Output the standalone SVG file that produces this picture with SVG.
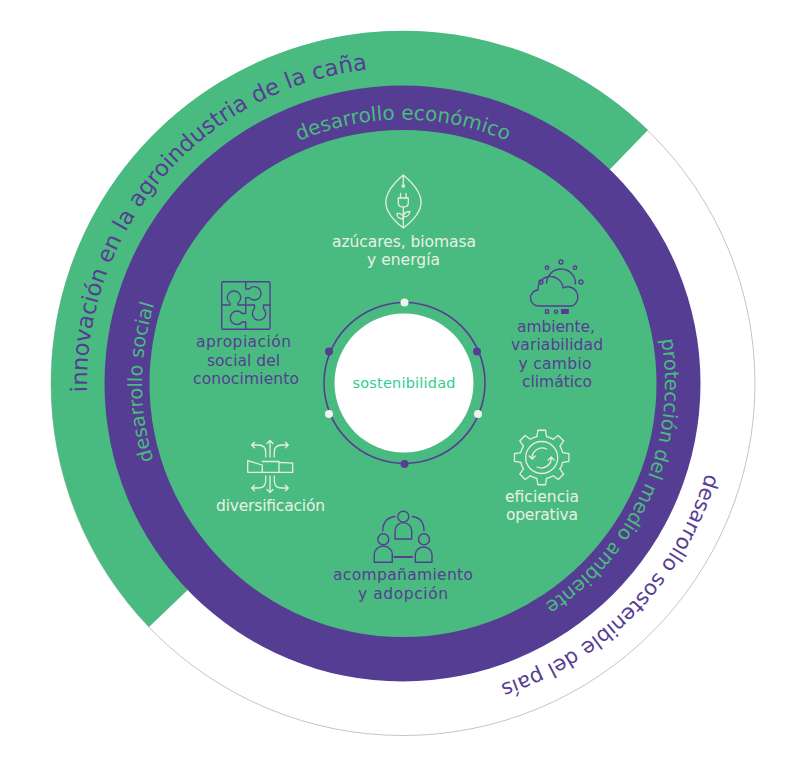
<svg xmlns="http://www.w3.org/2000/svg" width="803" height="767" viewBox="0 0 803 767">
<style>
text{font-family:"DejaVu Sans","Liberation Sans",sans-serif;text-anchor:middle}
.l{font-size:15.5px}
.c{fill:#e9f0e6}
.p{fill:#563d94}
.g{fill:#4abb80}
.ic{fill:none;stroke:#e6ede3;stroke-width:1.3;stroke-linecap:round;stroke-linejoin:round}
.ip{fill:none;stroke:#563d94;stroke-width:1.4;stroke-linecap:round;stroke-linejoin:round}
</style>
<defs>
<path id="a1" d="M96.4 459.9A316 316 0 0 1 436 69.2"/>
<path id="a2" d="M233.3 181.3A264 264 0 0 1 572.7 181.3"/>
<path id="a3" d="M176.3 512.8A261 261 0 0 1 177.7 251.8"/>
<path id="a4" d="M638.1 267.8A262 262 0 0 1 476.1 635.1"/>
<path id="a5" d="M719 379.6A316 316 0 0 1 406.9 699.5"/>
<path id="t" d="M-4.84-20.95L-3.83-27.23H3.83L4.84-20.95A21.5 21.5 0 0 1 11.39-18.23"/>
</defs>
<rect width="803" height="767" fill="#fff"/>
<g id="rings">
<circle cx="403" cy="383.5" r="352" fill="#fff" stroke="#b5b5b5" stroke-width=".8"/>
<path d="M149 627A352 352 0 0 1 51 383.5A352 352 0 0 1 648 130L403 383.5Z" fill="#4abb80"/>
<circle cx="402.5" cy="383.5" r="298" fill="#563d94"/>
<circle cx="403" cy="383.5" r="253.5" fill="#4abb80"/>
</g>
<g id="ring-labels">
<text class="p" font-size="22.7"><textPath href="#a1" startOffset="50%">innovación en la agroindustria de la caña</textPath></text>
<text class="g" font-size="20"><textPath href="#a2" startOffset="50%">desarrollo económico</textPath></text>
<text class="g" font-size="19.5"><textPath href="#a3" startOffset="50%">desarrollo social</textPath></text>
<text class="g" font-size="19.6"><textPath href="#a4" startOffset="50%">protección del medio ambiente</textPath></text>
<text class="p" font-size="21"><textPath href="#a5" startOffset="50%">desarrollo sostenible del país</textPath></text>
</g>
<g id="connectors">
<circle cx="404.5" cy="383" r="80.5" fill="none" stroke="#563d94" stroke-width="1.6"/>
<circle cx="404.5" cy="302.5" r="4" fill="#f1f3ef"/>
<circle cx="404.5" cy="464" r="4" fill="#563d94"/>
<circle cx="329" cy="351.5" r="4" fill="#563d94"/>
<circle cx="477" cy="351.5" r="4" fill="#563d94"/>
<circle cx="329" cy="414" r="4" fill="#f1f3ef"/>
<circle cx="478" cy="414" r="4" fill="#f1f3ef"/>
</g>
<g id="centro">
<circle cx="404" cy="383" r="69.5" fill="#fff"/>
<text x="404" y="387.5" font-size="14.5" fill="#2fcf8e" textLength="103">sostenibilidad</text>
</g>
<g id="azucares">
<g class="ic">
<path d="M403.3 175C380 195 380 210 403.3 228C427 210 427 195 403.3 175ZM403.3 175V186M403.3 207V228M398.3 198H408.3V203Q408.3 207 403.3 207Q398.3 207 398.3 203ZM400.5 198V193.5M406 198V193.5M403.3 219Q397 219 397 213.5Q403 213 403.3 219ZM403.3 217Q409 217 410 211.5Q403.5 211.5 403.3 217Z"/>
<circle cx="403.3" cy="186" r="1.2"/>
</g>
<text class="l c" x="404" y="247" textLength="144">azúcares, biomasa</text>
<text class="l c" x="403.5" y="265" textLength="73">y energía</text>
</g>
<g id="apropiacion">
<g class="ip">
<rect x="221.7" y="281.7" width="48.3" height="47.6" rx="1.5"/>
<path d="M221.7 305H230V303A6.7 6.7 0 1 1 238 303V305H254.5V308.5A6.7 6.7 0 1 0 263.5 308.5V305H270M245.7 281.7V289H249.2A6.7 6.7 0 1 1 249.2 297.6H245.7V313.5H242.2A6.7 6.7 0 1 0 242.2 322H245.7V329.3"/>
</g>
<text class="l p" x="243.5" y="347" textLength="95">apropiación</text>
<text class="l p" x="243.5" y="365.5" textLength="73">social del</text>
<text class="l p" x="246" y="384" textLength="106">conocimiento</text>
</g>
<g id="ambiente">
<g class="ip">
<path d="M546.5 283A14.5 14.5 0 0 1 575.5 284M539 306A8 8 0 0 1 538 290A12.5 12.5 0 0 1 563 288A9.5 9.5 0 0 1 572.5 306Z"/>
<circle cx="561" cy="262" r="2"/><circle cx="547" cy="267.7" r="1.7"/><circle cx="575" cy="267.7" r="1.7"/><circle cx="541" cy="282" r="2"/><circle cx="581" cy="282" r="2"/>
<rect x="545.5" y="310" width="3" height="3.2"/><circle cx="556" cy="311.7" r="1.6"/>
</g>
<rect x="561" y="309" width="7.8" height="5" fill="#563d94"/>
<text class="l p" x="556" y="331.5" textLength="78">ambiente,</text>
<text class="l p" x="557" y="350" textLength="92">variabilidad</text>
<text class="l p" x="555" y="368.5" textLength="73">y cambio</text>
<text class="l p" x="557" y="387" textLength="70">climático</text>
</g>
<g id="eficiencia">
<g class="ic" transform="translate(541.7 457.5)">
<use href="#t"/><use href="#t" transform="rotate(45)"/><use href="#t" transform="rotate(90)"/><use href="#t" transform="rotate(135)"/><use href="#t" transform="rotate(180)"/><use href="#t" transform="rotate(225)"/><use href="#t" transform="rotate(270)"/><use href="#t" transform="rotate(315)"/>
<circle r="16"/>
<path d="M5-8.5A10 10 0 0 0-9.5 1.5M-12.5-1.5L-9.5 1.5L-6.5-1.5M-4.7 9.5A10 10 0 0 0 9.5-.5M6.5 2.5L9.5-.5L12.5 2.5"/>
</g>
<text class="l c" x="542" y="501.5" textLength="74">eficiencia</text>
<text class="l c" x="542" y="520" textLength="72">operativa</text>
</g>
<g id="acompanamiento">
<g class="ip">
<circle cx="403.3" cy="516.7" r="5.5"/><path d="M395 539V531A8.3 8.3 0 0 1 411.7 531V539ZM382.7 530.7Q383 518 395 516.5M412.3 516.5Q424 518 424 530.7"/>
<circle cx="383.3" cy="539.3" r="5.5"/><path d="M374.3 562.3V554.5A9 8.5 0 0 1 392.3 554.5V562.3Z"/>
<circle cx="424" cy="539.3" r="5.5"/><path d="M415.3 562.3V554.5A8.4 8.5 0 0 1 432 554.5V562.3Z"/>
<path d="M394.5 557H412" stroke-width="2.2"/>
</g>
<text class="l p" x="403" y="580" textLength="140">acompañamiento</text>
<text class="l p" x="403" y="598.5" textLength="90">y adopción</text>
</g>
<g id="diversificacion">
<g class="ic">
<path d="M247.7 460.7L262.3 465V472.3H247.7ZM262.3 461.5H279V472.3H262.3M279 462.3L292.7 463.2V472.3H279"/>
<path d="M270 457V441M267 443.5L270 440.5L273 443.5M265.7 457V452Q265.7 445 258 445H251.7M254.5 442.2L251.7 445L254.5 447.8M274.3 457V452Q274.3 445 282 445H288.3M285.5 442.2L288.3 445L285.5 447.8"/>
<path d="M270 476V492M267 489.5L270 492.5L273 489.5M265.7 476V481Q265.7 488 258 488H251.7M254.5 485.2L251.7 488L254.5 490.8M274.3 476V481Q274.3 488 282 488H288.3M285.5 485.2L288.3 488L285.5 490.8"/>
</g>
<text class="l c" x="270.5" y="511" textLength="109">diversificación</text>
</g>
</svg>
